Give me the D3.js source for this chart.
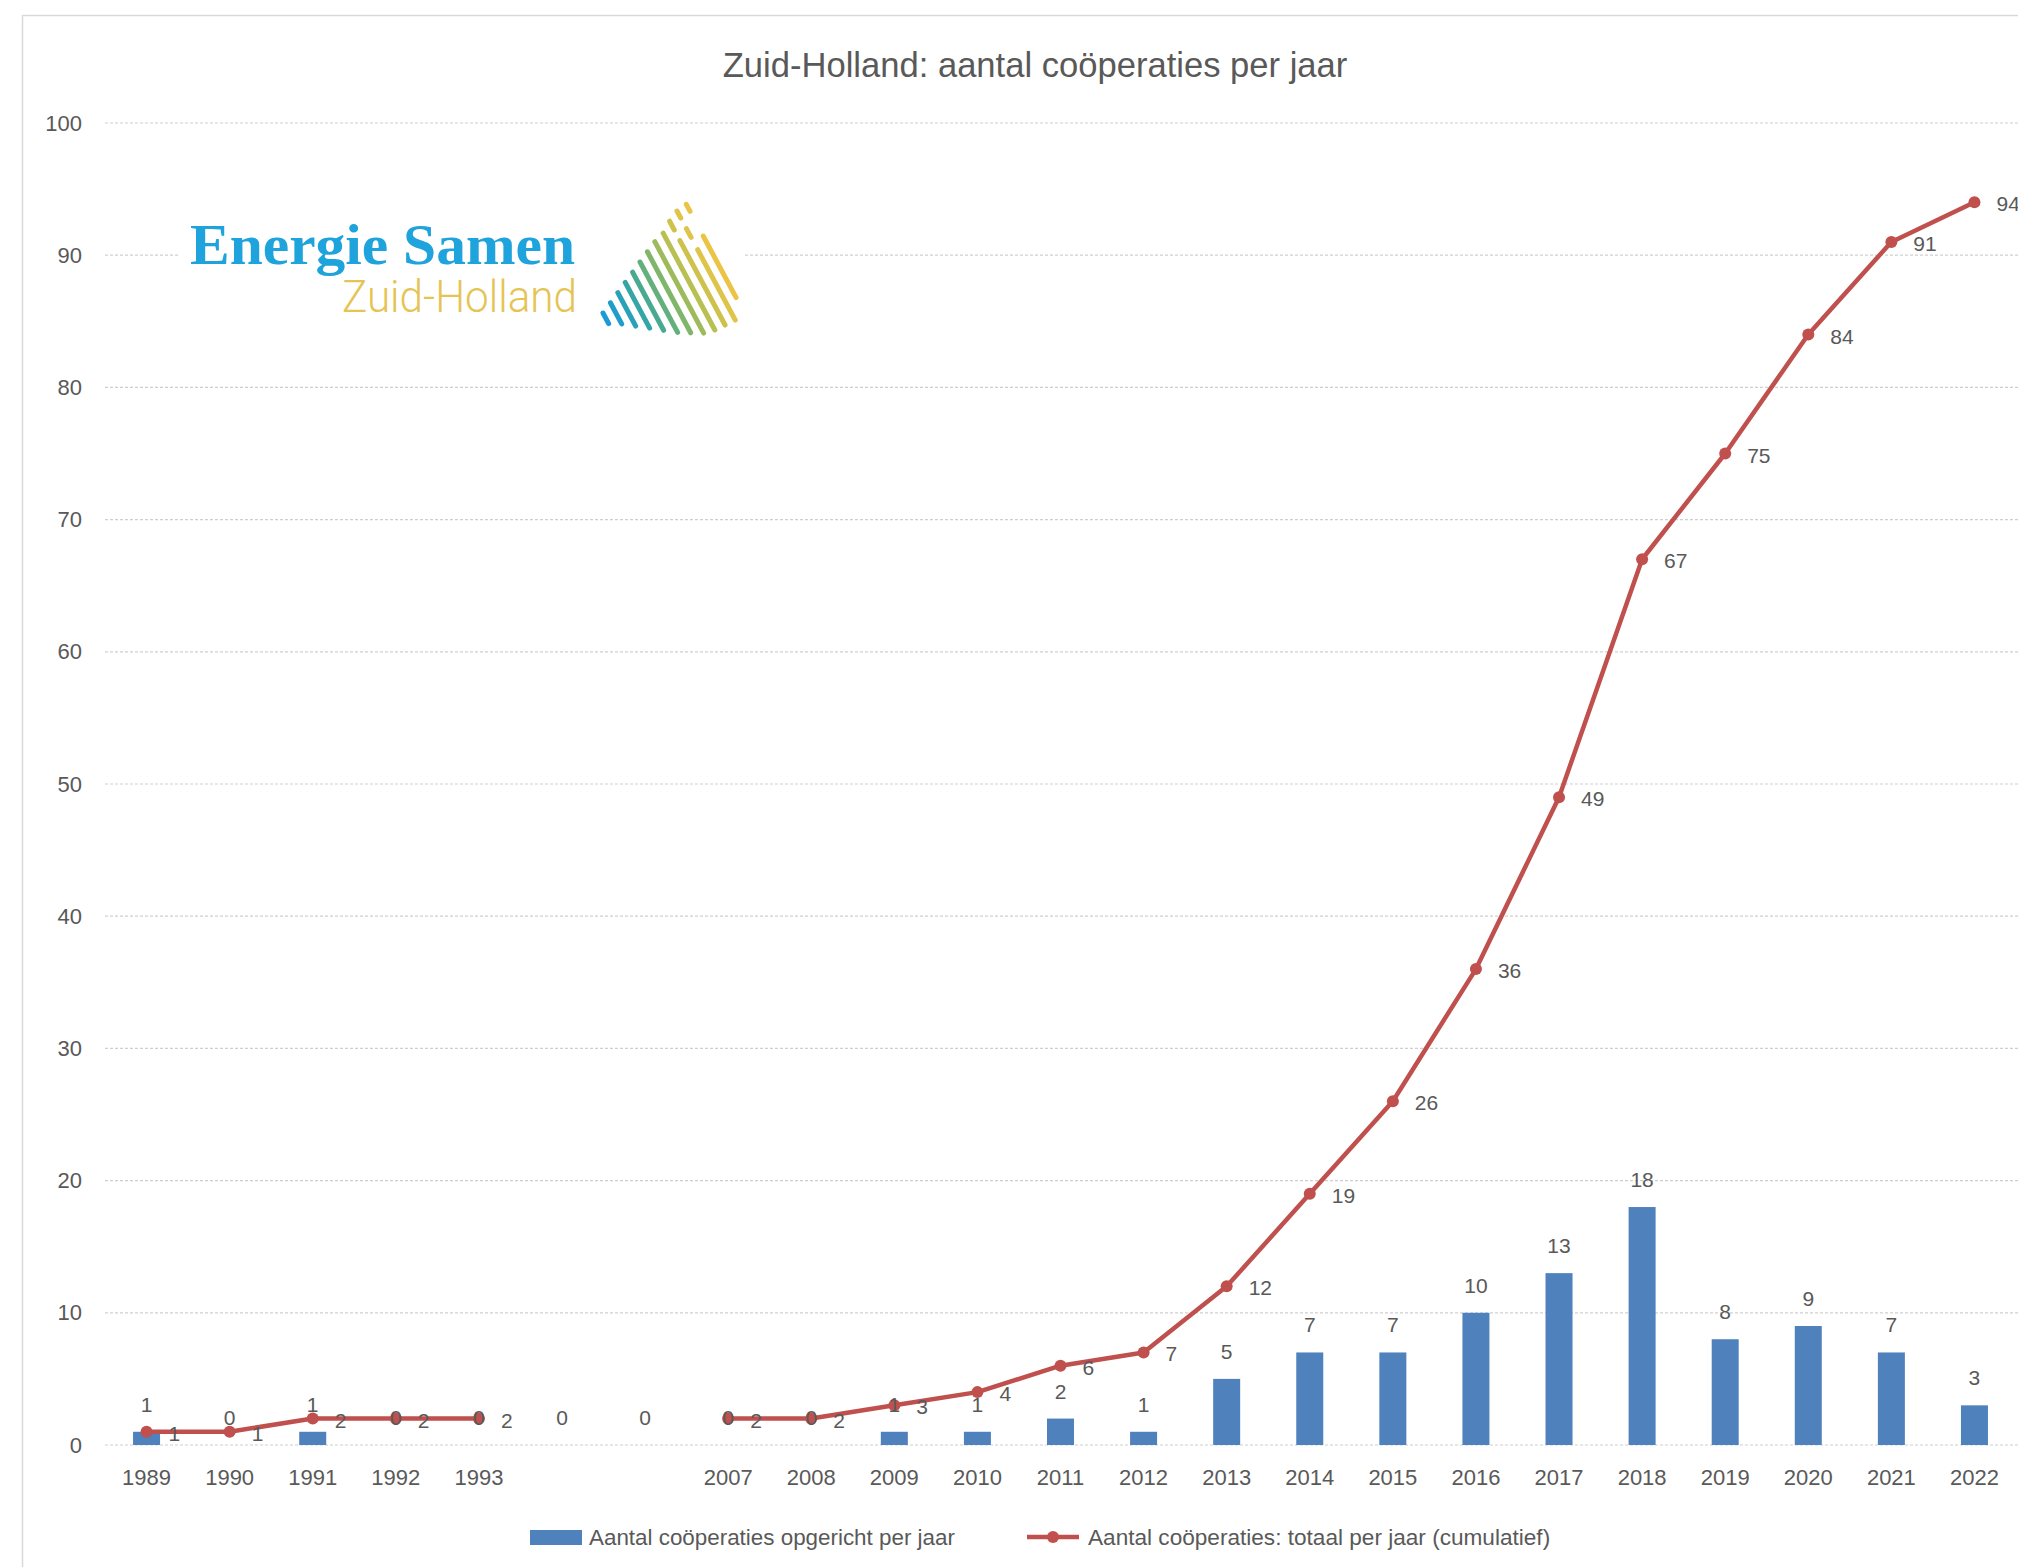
<!DOCTYPE html>
<html><head><meta charset="utf-8">
<script src="https://cdn.jsdelivr.net/npm/d3@7"></script>
<style>
body{margin:0;background:#fff}
</style>
</head><body><svg id="c" width="2018" height="1567" font-family="Liberation Sans, Arial, sans-serif"></svg>
<script>
const categories = ["1989","1990","1991","1992","1993","","","2007","2008","2009","2010","2011","2012","2013","2014","2015","2016","2017","2018","2019","2020","2021","2022"];
const foundedPerYear = [1,0,1,0,0,0,0,0,0,1,1,2,1,5,7,7,10,13,18,8,9,7,3];
const cumulativeTotal = [1,1,2,2,2,null,null,2,2,3,4,6,7,12,19,26,36,49,67,75,84,91,94];
const yTicks = [0,10,20,30,40,50,60,70,80,90,100];
const chartTitle = "Zuid-Holland: aantal coöperaties per jaar";
const seriesNames = ["Aantal coöperaties opgericht per jaar","Aantal coöperaties: totaal per jaar (cumulatief)"];
const logoTexts = ["Energie Samen","Zuid-Holland"];

const BLUE = "#4f81bd", RED = "#c0504d", TXT = "#595959";
const SANS = "Liberation Sans, Arial, sans-serif";
const svg = d3.select("#c");
svg.append("rect").attr("width",2018).attr("height",1567).attr("fill","#fff");
svg.append("rect").attr("x",22.5).attr("y",15.5).attr("width",2100).attr("height",1700)
  .attr("fill","none").attr("stroke","#d9d9d9").attr("stroke-width",1.5);

const x = d3.scaleBand().domain(d3.range(categories.length)).range([105,2016]);
const y = d3.scaleLinear().domain([0,100]).range([1445,123]);
const cx = i => x(i) + x.bandwidth()/2;

// title
svg.append("text").attr("x",1035).attr("y",77).attr("text-anchor","middle")
  .attr("font-size",34.6).attr("fill",TXT).text(chartTitle);

// gridlines
svg.append("g").selectAll("line").data(yTicks).join("line")
  .attr("x1",105).attr("x2",2018).attr("y1",d=>y(d)).attr("y2",d=>y(d))
  .attr("stroke","#cfcfcf").attr("stroke-width",1.2).attr("stroke-dasharray","3,2");

// y axis
const ya = svg.append("g").attr("transform","translate(105,0)")
  .call(d3.axisLeft(y).tickValues(yTicks).tickSize(0).tickPadding(23));
ya.select(".domain").remove();
ya.selectAll("text").attr("font-size",22).attr("fill",TXT).attr("font-family",SANS);

// x axis
const xa = svg.append("g").attr("transform","translate(0,1445)")
  .call(d3.axisBottom(x).tickFormat(i=>categories[i]).tickSize(0).tickPadding(24));
xa.select(".domain").remove();
xa.selectAll("text").attr("font-size",22).attr("fill",TXT).attr("font-family",SANS);

// logo
const logo = svg.append("g");
logo.append("rect").attr("x",180).attr("y",196).attr("width",564).attr("height",134).attr("fill","#fff");
logo.append("text").attr("x",190).attr("y",264).style("font-family","'Liberation Serif', 'DejaVu Serif', serif")
  .attr("font-weight","bold").attr("font-size",56).attr("fill","#1fa3dc")
  .attr("textLength",385).attr("lengthAdjust","spacingAndGlyphs").text(logoTexts[0]);
logo.append("text").attr("x",342).attr("y",312).style("font-family","Roboto, 'Liberation Sans', sans-serif")
  .attr("font-weight",300).attr("font-size",44).attr("fill","#e6c454")
  .attr("textLength",235).attr("lengthAdjust","spacingAndGlyphs").text(logoTexts[1]);
const stripeSegs = [[[0,12]],[[0,24]],[[0,38]],[[0,52]],[[0,66]],[[0,80]],[[0,92]],[[0,104]],[[2,112]],[[0,10],[22,118]],[[0,8],[20,30],[44,124]],[[4,12],[40,110]]];
const stripeCol = d3.interpolateRgbBasis(["#1a9ad6","#2aa3b0","#6db36c","#c8c34c","#ecc445"]);
const dx = 0.47, dy = 0.88;
stripeSegs.forEach((segs,i)=>{
  const px = 603 + 7.4*i, py = 313 - 10.2*i;
  segs.forEach(s=>{
    logo.append("line").attr("x1",px+dx*s[0]).attr("y1",py+dy*s[0])
      .attr("x2",px+dx*s[1]).attr("y2",py+dy*s[1])
      .attr("stroke",stripeCol(i/11)).attr("stroke-width",5).attr("stroke-linecap","round");
  });
});

// bars
const barW = 27;
svg.append("g").selectAll("rect").data(foundedPerYear).join("rect")
  .attr("x",(d,i)=>cx(i)-barW/2).attr("width",barW)
  .attr("y",d=>y(d)).attr("height",d=>y(0)-y(d)).attr("fill",BLUE);

// line
const line = d3.line().defined(d=>d!=null).x((d,i)=>cx(i)).y(d=>y(d));
svg.append("path").datum(cumulativeTotal).attr("d",line).attr("fill","none")
  .attr("stroke",RED).attr("stroke-width",4.5).attr("stroke-linejoin","round");
svg.append("g").selectAll("circle").data(cumulativeTotal.map((v,i)=>({v,i})).filter(d=>d.v!=null))
  .join("circle").attr("cx",d=>cx(d.i)).attr("cy",d=>y(d.v)).attr("r",6).attr("fill",RED);

// bar labels
svg.append("g").selectAll("text").data(foundedPerYear).join("text")
  .attr("x",(d,i)=>cx(i)).attr("y",d=>y(d)-20).attr("text-anchor","middle")
  .attr("font-size",21).attr("fill",TXT).text(d=>d);

// line labels
svg.append("g").selectAll("text").data(cumulativeTotal.map((v,i)=>({v,i})).filter(d=>d.v!=null))
  .join("text").attr("x",d=>cx(d.i)+22).attr("y",d=>y(d.v)+9)
  .attr("font-size",21).attr("fill",TXT).text(d=>d.v);

// legend
const lg = svg.append("g");
lg.append("rect").attr("x",530).attr("y",1530).attr("width",52).attr("height",15).attr("fill",BLUE);
lg.append("text").attr("x",589).attr("y",1545).attr("font-size",22.4).attr("fill",TXT).text(seriesNames[0]);
lg.append("line").attr("x1",1027).attr("x2",1079).attr("y1",1537).attr("y2",1537).attr("stroke",RED).attr("stroke-width",4.5);
lg.append("circle").attr("cx",1053).attr("cy",1537).attr("r",6).attr("fill",RED);
lg.append("text").attr("x",1088).attr("y",1545).attr("font-size",22.6).attr("fill",TXT).text(seriesNames[1]);
</script></body></html>
